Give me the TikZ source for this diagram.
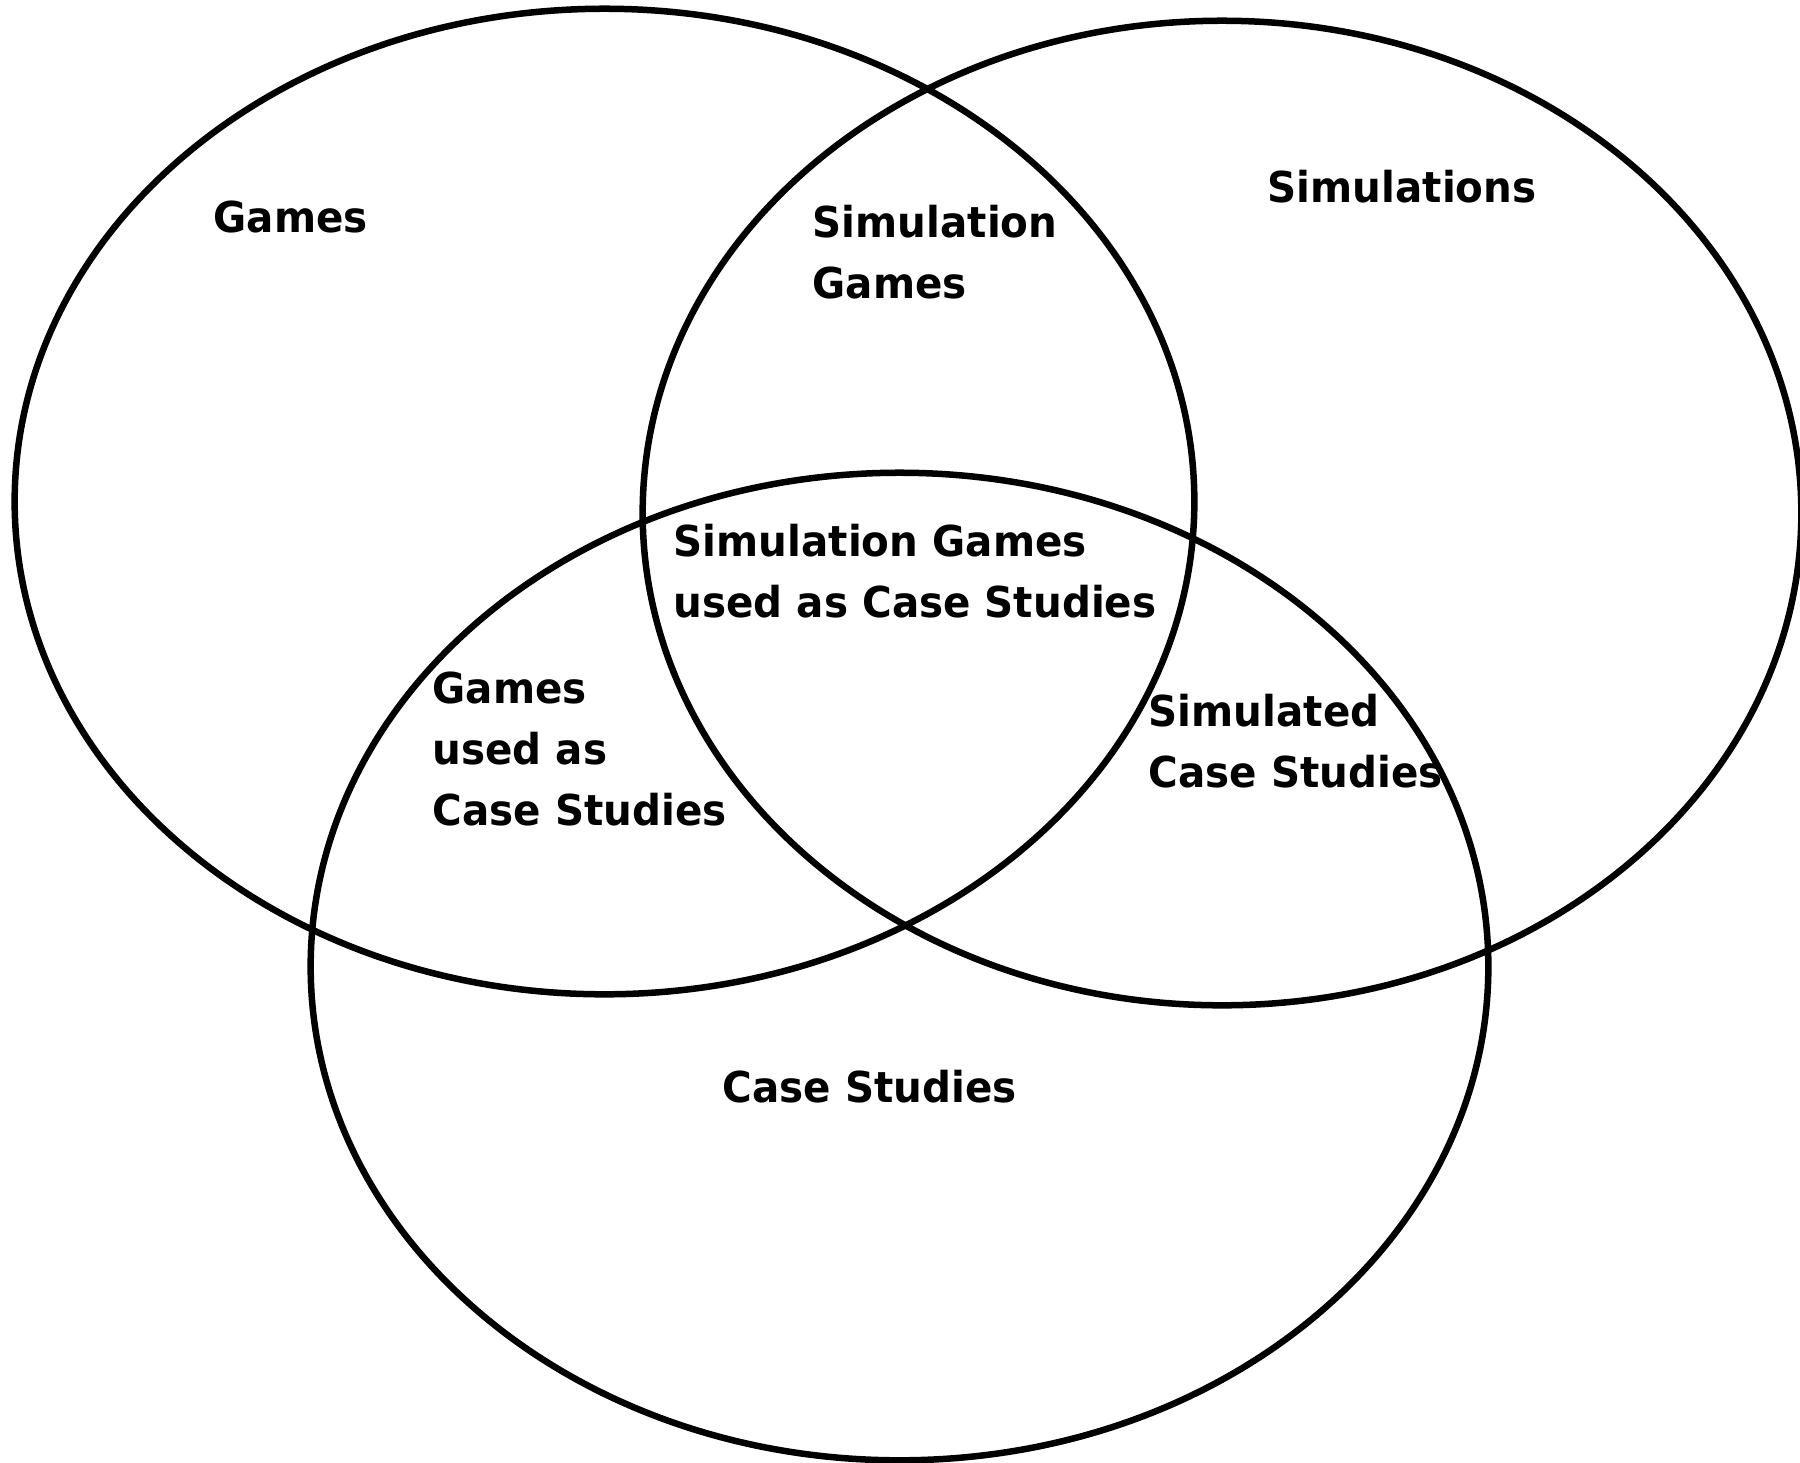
\documentclass[tikz,border=0pt]{standalone}
\usepackage{fontspec}
\newfontfamily\lblfont{DejaVu Sans}[FakeStretch=0.95]
\begin{document}
\begin{tikzpicture}[x=0.01cm,y=-0.01cm,
  setline/.style={line width=1.85pt,draw=black},
  lbl/.style={anchor=base west,inner sep=0pt,align=left,
    font=\lblfont\bfseries\fontsize{12.1}{17.3}\selectfont}]
\useasboundingbox (0,0) rectangle (1800,1462);
\fill[white] (0,0) rectangle (1800,1462);
% sets
\draw[setline] (604.5,501.5) ellipse [x radius=5.895cm, y radius=4.925cm];
\draw[setline] (1222,513) ellipse [x radius=5.79cm, y radius=4.92cm];
\draw[setline] (899.5,966.5) ellipse [x radius=5.885cm, y radius=4.935cm];
% labels (anchor = baseline of the last line)
\node[lbl] (games) at (213,232) {Games};
\node[lbl] (sims) at (1267,202) {Simulations};
\node[lbl] (simgames) at (812,298) {Simulation\\Games};
\node[lbl] (center) at (673,617) {Simulation Games\\used as Case Studies};
\node[lbl] (gamescs) at (432,825) {Games\\used as\\Case Studies};
\node[lbl] (simcs) at (1148,787) {Simulated\\Case Studies};
\node[lbl] (cs) at (722,1102) {Case Studies};
\end{tikzpicture}
\end{document}
